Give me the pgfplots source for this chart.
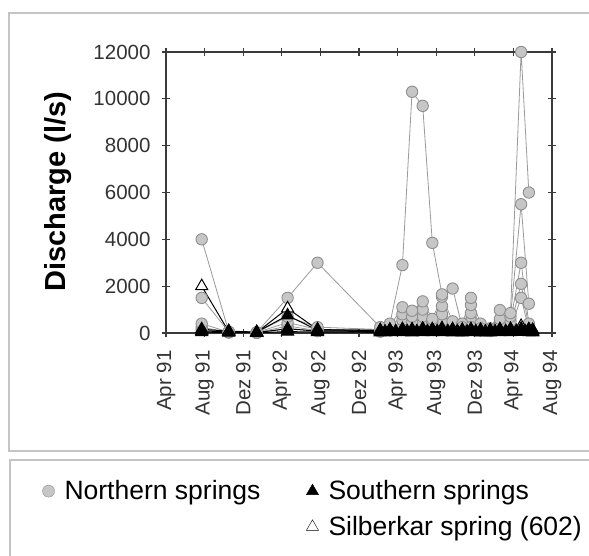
\documentclass[border=0pt]{standalone}
\usepackage{pgfplots}
\pgfplotsset{compat=1.18}
\usepackage{fontspec}
\setmainfont{Liberation Sans}
\definecolor{cfill}{HTML}{C6C6C6}
\definecolor{cedge}{HTML}{8E8E8E}
\definecolor{cline}{HTML}{9A9A9A}
\definecolor{frame}{HTML}{C4C4C4}
\definecolor{axc}{HTML}{3A3A3A}
\begin{document}
\begin{tikzpicture}
\useasboundingbox (0,0) rectangle (589bp,-556bp);
\fill[white] (0,0) rectangle (589bp,-556bp);
\draw[frame, line width=2bp] (8.5bp,-13bp) rectangle (640bp,-450.5bp);
\draw[frame, line width=2bp] (10bp,-460bp) rectangle (640bp,-600bp);
\begin{axis}[
  at={(166bp,-333bp)}, anchor=south west,
  scale only axis, width=386bp, height=281bp,
  xmin=0, xmax=40, ymin=0, ymax=12000,
  xtick={0,4,...,40},
  xticklabels={Apr 91, Aug 91, Dez 91, Apr 92, Aug 92, Dez 92, Apr 93, Aug 93, Dez 93, Apr 94, Aug 94},
  ytick={0,2000,...,12000},
  scaled y ticks=false,
  /pgf/number format/.cd, set thousands separator={}, assume math mode=true,
  /pgfplots/.cd,
  tick label style={font=\fontsize{20.5bp}{24bp}\selectfont, color=black!80},
  xticklabel style={yshift=-10bp, rotate=90, anchor=east},
  yticklabel style={xshift=-8bp},
  tick align=center, major tick length=8bp,
  axis line style={axc, line width=1.2bp},
  every tick/.style={axc, line width=1.2bp},
  ylabel={Discharge (l/s)},
  ylabel style={font=\bfseries\fontsize{29bp}{32bp}\selectfont, at={(rel axis cs:-0.28,0.502)}, anchor=center},
  clip=false,
  legend columns=2,
  legend cell align=left,
  legend style={at={(rel axis cs:-0.3346,-0.511)}, anchor=north west, draw=none, fill=none,
    font=\fontsize{26.5bp}{30bp}\selectfont, row sep=11bp,
    /tikz/every odd column/.append style={column sep=8bp},
    /tikz/every even column/.append style={column sep=44bp}},
  legend image code/.code={\draw[#1] plot coordinates {(0.3cm,0cm)};},
]
\addlegendimage{only marks, mark=*, mark size=6bp, mark options={fill=cfill, draw=cedge}}
\addlegendentry{Northern springs}
\addlegendimage{only marks, mark=triangle*, mark size=7bp, mark options={fill=black, draw=black}}
\addlegendentry{Southern springs}
\addlegendimage{empty legend}
\addlegendentry{}
\addlegendimage{only marks, mark=triangle*, mark size=7bp, mark options={fill=white, draw=black}}
\addlegendentry{Silberkar spring (602)}

% Northern springs
\pgfplotsset{north/.style={forget plot, color=cline, line width=0.8bp, mark=*, mark size=5.7bp, mark options={fill=cfill, draw=cedge, line width=0.9bp}}}
\addplot[north] coordinates {(3.7,150)(6.5,20)(9.4,10)(12.6,200)(15.7,80)(22.2,60)(23.2,100)(24.5,300)(25.5,250)(26.6,400)(27.6,200)(28.6,500)(29.7,150)(30.7,100)(31.6,500)(32.6,100)(33.6,80)(34.6,200)(35.7,200)(36.8,1500)(37.6,150)};
\addplot[north] coordinates {(3.7,250)(6.5,30)(9.4,10)(12.6,300)(15.7,100)(22.2,80)(23.2,150)(24.5,550)(25.5,450)(26.6,700)(27.6,300)(28.6,800)(29.7,200)(30.7,150)(31.6,850)(32.6,150)(33.6,100)(34.6,300)(35.7,300)(36.8,2100)(37.6,250)};
\addplot[north] coordinates {(3.7,400)(6.5,40)(9.4,20)(12.6,450)(15.7,150)(22.2,100)(23.2,200)(24.5,800)(25.5,700)(26.6,1000)(27.6,450)(28.6,1150)(29.7,300)(30.7,250)(31.6,1200)(32.6,250)(33.6,150)(34.6,450)(35.7,500)(36.8,3000)(37.6,400)};
\addplot[north] coordinates {(3.7,1500)(6.5,50)(9.4,20)(12.6,700)(15.7,250)(22.2,150)(23.2,300)(24.5,1100)(25.5,950)(26.6,1350)(27.6,600)(28.6,1550)(29.7,500)(30.7,400)(31.6,1500)(32.6,400)(33.6,200)(34.6,600)(35.7,700)(36.8,5500)(37.6,1250)};
\addplot[north] coordinates {(3.7,4000)(6.5,60)(9.4,30)(12.6,1500)(15.7,3000)(22.2,250)(23.2,400)(24.5,2900)(25.5,10300)(26.6,9700)(27.6,3850)(28.6,1650)(29.7,1900)(30.7,250)(31.6,250)(32.6,200)(33.6,150)(34.6,980)(35.7,850)(36.8,12000)(37.6,6000)};

% Silberkar spring (602)
\addplot[forget plot, color=black, line width=1bp, mark=triangle*, mark size=7bp, mark options={fill=white, draw=black}] coordinates {(3.7,2000)(6.5,60)(9.4,20)(12.6,1050)(15.7,150)(22.2,100)(23.2,120)(24.5,150)(25.5,150)(26.6,180)(27.6,150)(28.6,200)(29.7,150)(30.7,120)(31.6,150)(32.6,120)(33.6,100)(34.6,150)(35.7,150)(36.8,300)(37.6,150)(38.0,120)};

% Southern springs
\pgfplotsset{south/.style={forget plot, color=black, line width=1bp, mark=triangle*, mark size=7bp, mark options={fill=black, draw=black}}}
\addplot[south] coordinates {(3.7,40)(6.5,20)(9.4,10)(12.6,60)(15.7,40)(22.2,30)(23.2,40)(24.5,40)(25.5,30)(26.6,40)(27.6,40)(28.6,40)(29.7,30)(30.7,30)(31.6,40)(32.6,30)(33.6,30)(34.6,40)(35.7,40)(36.8,50)(37.6,40)(38.0,30)};
\addplot[south] coordinates {(3.7,90)(6.5,50)(9.4,20)(12.6,180)(15.7,80)(22.2,70)(22.7,60)(23.2,80)(23.8,70)(24.5,90)(25.0,70)(25.5,80)(26.0,70)(26.6,90)(27.1,70)(27.6,80)(28.1,70)(28.6,90)(29.2,70)(29.7,80)(30.2,70)(30.7,70)(31.2,60)(31.6,80)(32.1,70)(32.6,70)(33.1,60)(33.6,70)(34.1,70)(34.6,80)(35.2,70)(35.7,90)(36.3,80)(36.8,100)(37.2,80)(37.6,80)(38.0,60)};
\addplot[south] coordinates {(3.7,160)(6.5,80)(9.4,40)(12.6,750)(15.7,120)(22.2,120)(23.2,140)(24.5,160)(25.5,140)(26.6,170)(27.6,150)(28.6,170)(29.7,150)(30.7,130)(31.6,150)(32.6,130)(33.6,130)(34.6,150)(35.7,170)(36.8,180)(37.6,150)(38.0,120)};
\end{axis}
\end{tikzpicture}
\end{document}
